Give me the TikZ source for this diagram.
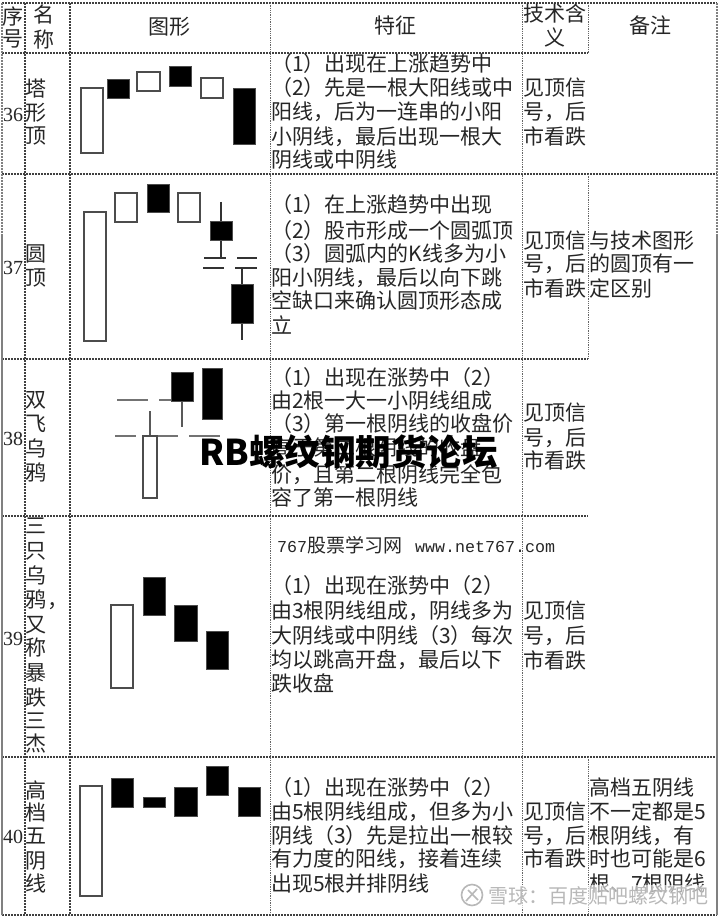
\documentclass[tikz,border=0pt]{standalone}
\usepackage{fontspec}
\setmainfont{Noto Sans CJK SC}
\newfontfamily\digf{Liberation Serif}
\newfontfamily\monof{Liberation Mono}
\newcounter{tc}
\tikzset{
  gridA/.style={line width=1.3pt,black!75,dash pattern=on 1.7pt off 1.3pt},
  gridB/.style={line width=1pt,black!60,dash pattern=on 1.3pt off 1pt},
  gridC/.style={line width=1.2pt,black!50,dash pattern=on 2.5pt off .5pt},
  txt/.style={inner sep=0pt,text=black!85,font=\fontsize{21}{21}\selectfont,text height=20pt,text depth=4pt},
  upbar/.style={draw=black!70,line width=1.2pt,fill=white},
  downbar/.style={draw=black!70,line width=.6pt,fill=black},
  wick/.style={black!80,line width=1.1pt},
  gapline/.style={black!55,line width=1.4pt}
}
\newcommand{\tl}[3]{\stepcounter{tc}\node[txt,anchor=west] (t\thetc) at (#1,#2) {#3};}
\newcommand{\tc}[3]{\stepcounter{tc}\node[txt,anchor=center] (t\thetc) at (#1,#2) {#3};}
\newcommand{\dg}[2]{\stepcounter{tc}\node[txt,anchor=center,font=\digf\fontsize{20}{20}\selectfont,text height=17pt,text depth=1pt] (t\thetc) at (13,#1) {#2};}
\newcommand{\ub}[4]{\draw[upbar] (#1,#2) rectangle (#3,#4);}
\newcommand{\db}[4]{\draw[downbar] (#1,#2) rectangle (#3,#4);}
\begin{document}
\begin{tikzpicture}[x=1pt,y=-1pt]
\useasboundingbox (0,0) rectangle (720,917);
\fill[white] (0,0) rectangle (720,917);
% grid
\foreach \y in {3,174,757,915} \draw[gridA] (2,\y) -- (717,\y);
\foreach \y in {53,359,516} \draw[gridA] (2,\y) -- (588,\y);
\draw[gridC] (2,3) -- (2,915);
\foreach \x in {25,70} \draw[gridA] (\x,3) -- (\x,915);
\foreach \x in {270,522} \draw[gridB] (\x,3) -- (\x,915);
\draw[gridC] (717,3) -- (717,915);
\draw[gridB] (588,3) -- (588,53);
\draw[gridB] (588,174) -- (588,359);
\draw[gridB] (588,757) -- (588,915);
% header
\tc{13}{17}{序}\tc{13}{39}{号}
\tc{44}{15}{名}\tc{44}{40}{称}
\tc{169}{27}{图形}\tc{395}{26}{特征}
\tc{555}{14}{技术含}\tc{555}{38}{义}\tc{650}{26}{备注}
% numbers
\dg{114}{36}\dg{266}{37}\dg{437}{38}\dg{637}{39}\dg{835}{40}
% names
\tc{36}{89}{塔}\tc{36}{113}{形}\tc{36}{136}{顶}
\tc{36}{253}{圆}\tc{36}{277}{顶}
\tc{36}{399}{双}\tc{36}{423}{飞}\tc{36}{448}{乌}\tc{36}{472}{鸦}
\tc{36}{525}{三}\tc{36}{550}{只}\tc{36}{575}{乌}\tc{36}{599}{鸦}\tl{47}{599}{，}
\tc{36}{624}{又}\tc{36}{647}{称}\tc{36}{672}{暴}\tc{36}{697}{跌}\tc{36}{720}{三}\tc{36}{743}{杰}
\tc{36}{790}{高}\tc{36}{812}{档}\tc{36}{835}{五}\tc{36}{860}{阴}\tc{36}{883}{线}
% features 36
\tl{271}{64}{（1）出现在上涨趋势中}
\tl{271}{88}{（2）先是一根大阳线或中}
\tl{271}{112}{阳线，后为一连串的小阳}
\tl{271}{137}{小阴线，最后出现一根大}
\tl{271}{160}{阴线或中阴线}
% features 37
\tl{271}{205}{（1）在上涨趋势中出现}
\tl{271}{230}{（2）股市形成一个圆弧顶}
\tl{271}{253}{（3）圆弧内的K线多为小}
\tl{271}{277}{阳小阴线，最后以向下跳}
\tl{271}{300}{空缺口来确认圆顶形态成}
\tl{271}{325}{立}
% features 38
\tl{271}{377}{（1）出现在涨势中（2）}
\tl{271}{400}{由2根一大一小阴线组成}
\tl{271}{423}{（3）第一根阴线的收盘价}
\tl{271}{447}{高于第二根阴线的收盘}
\tl{271}{474}{价，且第二根阴线完全包}
\tl{271}{497}{容了第一根阴线}
% features 39
\stepcounter{tc}\node[txt,anchor=west,font=\fontsize{19}{19}\selectfont] (t\thetc) at (277,544) {{\monof\fontsize{16.67}{17}\selectfont 767}股票学习网};
\stepcounter{tc}\node[txt,anchor=west,font=\monof\fontsize{16.67}{17}\selectfont] (t\thetc) at (415,544) {www.net767.com};
\tl{271}{585}{（1）出现在涨势中（2）}
\tl{271}{610}{由3根阴线组成，阴线多为}
\tl{271}{635}{大阴线或中阴线（3）每次}
\tl{271}{659}{均以跳高开盘，最后以下}
\tl{271}{683}{跌收盘}
% features 40
\tl{271}{787}{（1）出现在涨势中（2）}
\tl{271}{811}{由5根阴线组成，但多为小}
\tl{271}{835}{阴线（3）先是拉出一根较}
\tl{271}{858}{有力度的阳线，接着连续}
\tl{271}{883}{出现5根并排阴线}
% meaning
\foreach \a/\b/\c in {88/112/137,240/263/288,412/437/460,610/635/660,811/835/858}{
  \tl{523}{\a}{见顶信}\tl{523}{\b}{号，后}\tl{523}{\c}{市看跌}
}
% remarks
\tl{589}{240}{与技术图形}\tl{589}{263}{的圆顶有一}\tl{589}{288}{定区别}
\tl{589}{787}{高档五阴线}\tl{589}{811}{不一定都是5}\tl{589}{835}{根阴线，有}
\tl{589}{858}{时也可能是6}\tl{589}{883}{根、7根阴线}
% candles 36
\ub{81}{88}{103}{153}\db{107}{79}{129}{98}\ub{137}{72}{160}{91}
\db{169}{66}{191}{86}\ub{201}{78}{223}{98}\db{233}{88}{255}{144}
% candles 37
\ub{84}{212}{106}{341}\ub{115}{193}{137}{222}\db{147}{184}{169}{212}\ub{178}{193}{200}{222}
\draw[wick] (221,202) -- (221,258);
\db{210}{221}{232}{240}
\draw[wick] (204,258) -- (226,258);
\draw[wick] (203,268) -- (224,268);
\draw[wick] (237,258) -- (257,258);
\draw[wick] (235,268) -- (257,268);
\draw[wick] (242,268) -- (242,340);
\db{231}{284}{253}{323}
% candles 38
\draw[gapline] (117,400) -- (148,400);
\draw[gapline] (159,400) -- (171,400);
\draw[gapline] (115,436) -- (136,436);
\draw[gapline] (143,436) -- (178,436);
\draw[gapline] (189,436) -- (220,436);
\draw[wick,black!65] (182,401) -- (182,427);
\draw[wick,black!65] (150,411) -- (150,436);
\db{171}{372}{193}{401}\db{202}{368}{222}{419}
\ub{143}{436}{157}{498}
% candles 39
\ub{111}{605}{133}{688}\db{143}{577}{165}{615}\db{174}{605}{197}{641}\db{206}{631}{228}{669}
% candles 40
\ub{80}{786}{102}{896}\db{111}{778}{133}{807}\db{143}{797}{165}{807}
\db{174}{787}{197}{816}\db{206}{766}{228}{795}\db{238}{787}{260}{816}
% overlay watermarks
\fill[white,opacity=.6] (462,885) rectangle (712,908);
\node[inner sep=0pt,anchor=center,circle,draw=black!28,line width=1.6pt,minimum size=21pt] (wmlogo) at (472,895) {};
\draw[black!28,line width=1.6pt] (466,901) -- (477,889);
\draw[black!28,line width=1.6pt] (468,890) -- (478,900);
\node[inner sep=0pt,anchor=west,text=black!28,font=\fontsize{20}{20}\selectfont] (wmtext) at (488,896) {雪球：百度贴吧螺纹钢吧};
\node[inner sep=0pt,anchor=west,text=black,font=\fontsize{35.5}{36}\selectfont\bfseries] (wmtitle) at (199,452) {RB螺纹钢期货论坛};
\end{tikzpicture}
\end{document}
